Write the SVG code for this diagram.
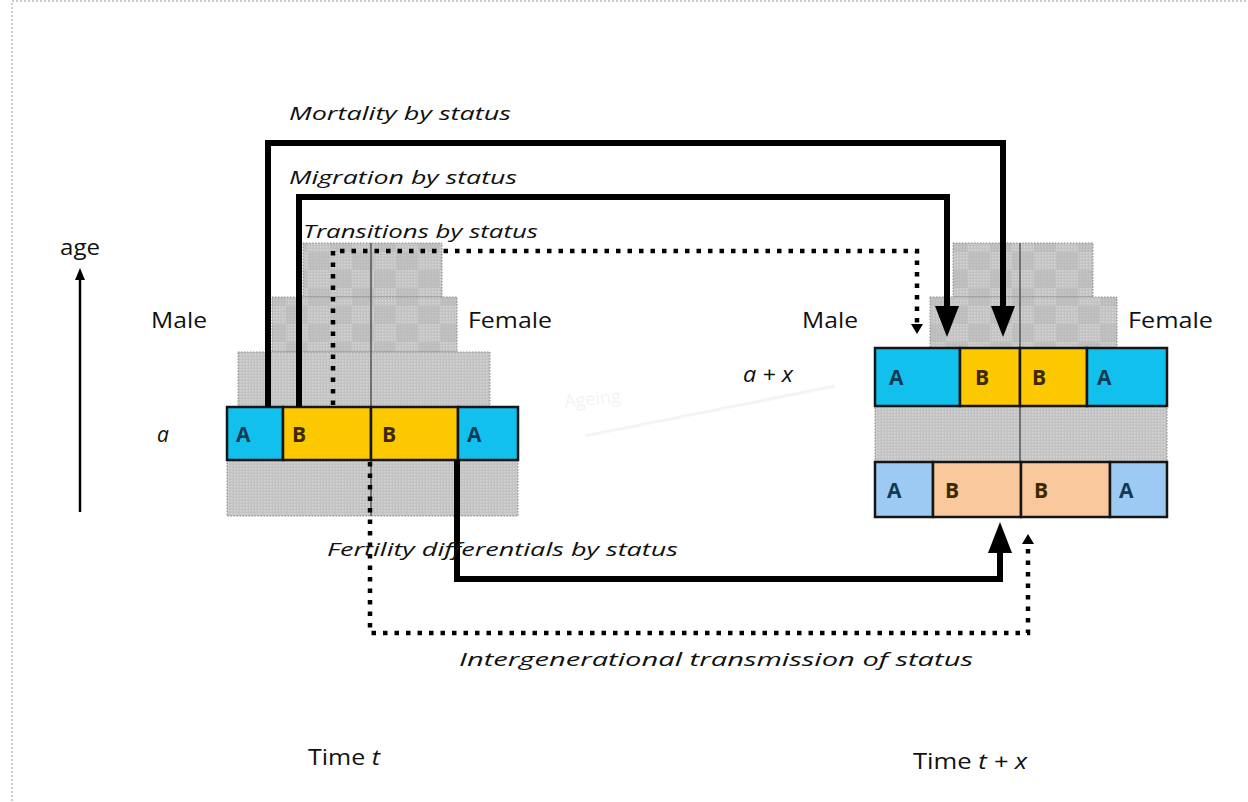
<svg xmlns="http://www.w3.org/2000/svg" width="1248" height="802" viewBox="0 0 1248 802">
<defs>
<pattern id="dots" width="3" height="3" patternUnits="userSpaceOnUse">
<rect width="3" height="3" fill="#c2c2c2"/>
<rect width="1.5" height="1.5" fill="#d6d6d6"/>
</pattern>
<pattern id="chk" width="44" height="36" patternUnits="userSpaceOnUse">
<rect width="44" height="36" fill="url(#dots)"/>
<rect x="0" y="0" width="22" height="18" fill="#b4b4b4" opacity="0.45"/>
<rect x="22" y="18" width="22" height="18" fill="#b4b4b4" opacity="0.45"/>
</pattern>
<marker id="bigHead" viewBox="0 0 31 24" refX="0" refY="12" markerWidth="31" markerHeight="24" markerUnits="userSpaceOnUse" orient="auto">
<path d="M0,0 L31,12 L0,24 z" fill="#000"/>
</marker>
<marker id="smallHead" viewBox="0 0 10 12" refX="0" refY="6" markerWidth="10" markerHeight="12" markerUnits="userSpaceOnUse" orient="auto">
<path d="M0,0 L10,6 L0,12 z" fill="#000"/>
</marker>
<marker id="ageHead" viewBox="0 0 12 10" refX="0" refY="5" markerWidth="12" markerHeight="10" markerUnits="userSpaceOnUse" orient="auto">
<path d="M0,0 L12,5 L0,10 z" fill="#000"/>
</marker>
</defs>
<style>
.lbl{font-family:"Open Sans","Liberation Sans",sans-serif;font-size:19px;font-style:italic;fill:#111}
.txt{font-family:"Open Sans","Liberation Sans",sans-serif;font-size:21px;fill:#111}
.cellA{font-family:"Open Sans","Liberation Sans",sans-serif;font-size:21px;font-weight:bold;fill:#123a52}
.cellB{font-family:"Open Sans","Liberation Sans",sans-serif;font-size:21px;font-weight:bold;fill:#3d2a00}
.gray{fill:url(#dots);stroke:#888;stroke-width:1;stroke-dasharray:1.5 1.5}
.grayc{fill:url(#chk);stroke:#888;stroke-width:1;stroke-dasharray:1.5 1.5}
.cell{stroke:#151515;stroke-width:2.5}
.axis{stroke:#555;stroke-width:1.5}
.thick{fill:none;stroke:#000;stroke-width:6}
.dot{fill:none;stroke:#000;stroke-width:4.5;stroke-dasharray:4.5 7}
</style>
<rect x="0" y="0" width="1248" height="802" fill="#fff"/>
<rect x="12" y="1" width="1240" height="806" fill="none" stroke="#999" stroke-width="1" stroke-dasharray="2 2"/>

<g id="age-axis">
<line x1="80" y1="512" x2="80" y2="280" stroke="#000" stroke-width="2.5" marker-end="url(#ageHead)"/>
<text class="txt" x="60" y="255" textLength="40" lengthAdjust="spacingAndGlyphs">age</text>
</g>

<g id="pyramid-t">
<rect class="grayc" x="303" y="243" width="139" height="54"/>
<rect class="grayc" x="272" y="297" width="185" height="55"/>
<rect class="gray" x="238" y="352" width="252" height="55"/>
<rect class="gray" x="227" y="460" width="291" height="56"/>
<line class="axis" x1="371" y1="243" x2="371" y2="516"/>
<rect class="cell" x="227" y="407" width="56" height="53" fill="#12c0ee"/>
<rect class="cell" x="283" y="407" width="88" height="53" fill="#fcc800"/>
<rect class="cell" x="371" y="407" width="87" height="53" fill="#fcc800"/>
<rect class="cell" x="458" y="407" width="60" height="53" fill="#12c0ee"/>
<text class="cellA" x="236" y="442">A</text>
<text class="cellB" x="292" y="442">B</text>
<text class="cellB" x="382" y="442">B</text>
<text class="cellA" x="467" y="442">A</text>
</g>

<g id="pyramid-tx">
<rect class="grayc" x="953" y="243" width="140" height="54"/>
<rect class="grayc" x="930" y="297" width="187" height="51"/>
<rect class="gray" x="875" y="406" width="292" height="56"/>
<line class="axis" x1="1020" y1="243" x2="1020" y2="517"/>
<rect class="cell" x="875" y="348" width="85" height="58" fill="#12c0ee"/>
<rect class="cell" x="960" y="348" width="60" height="58" fill="#fcc800"/>
<rect class="cell" x="1020" y="348" width="67" height="58" fill="#fcc800"/>
<rect class="cell" x="1087" y="348" width="80" height="58" fill="#12c0ee"/>
<rect class="cell" x="875" y="462" width="58" height="55" fill="#9dcaf2"/>
<rect class="cell" x="933" y="462" width="88" height="55" fill="#f9c89c"/>
<rect class="cell" x="1021" y="462" width="89" height="55" fill="#f9c89c"/>
<rect class="cell" x="1110" y="462" width="57" height="55" fill="#9dcaf2"/>
<text class="cellA" x="889" y="385">A</text>
<text class="cellB" x="975" y="385">B</text>
<text class="cellB" x="1032" y="385">B</text>
<text class="cellA" x="1097" y="385">A</text>
<text class="cellA" x="887" y="498">A</text>
<text class="cellB" x="945" y="498">B</text>
<text class="cellB" x="1034" y="498">B</text>
<text class="cellA" x="1119" y="498">A</text>
</g>

<g id="side-labels">
<text class="txt" x="151" y="328" textLength="56" lengthAdjust="spacingAndGlyphs">Male</text>
<text class="txt" x="468" y="328" textLength="84" lengthAdjust="spacingAndGlyphs">Female</text>
<text class="txt" x="802" y="328" textLength="56" lengthAdjust="spacingAndGlyphs">Male</text>
<text class="txt" x="1128" y="328" textLength="85" lengthAdjust="spacingAndGlyphs">Female</text>
<text class="lbl" x="157" y="442" style="font-size:21px">a</text>
<text class="lbl" x="743" y="382" style="font-size:21px" textLength="50" lengthAdjust="spacingAndGlyphs">a + x</text>
<text class="txt" x="308" y="765" textLength="72" lengthAdjust="spacingAndGlyphs">Time <tspan font-style="italic">t</tspan></text>
<text class="txt" x="913" y="769" textLength="114" lengthAdjust="spacingAndGlyphs">Time <tspan font-style="italic">t + x</tspan></text>
</g>

<g id="ageing-hint">
<text x="565" y="408" transform="rotate(-6 565 408)" style="font-family:'Open Sans','Liberation Sans',sans-serif;font-size:18px;fill:#f3f3f3">Ageing</text>
<line x1="585" y1="436" x2="835" y2="386" stroke="#f4f4f4" stroke-width="3"/>
</g>

<g id="connectors">
<path class="thick" d="M268,407 V143 H1003 V306" marker-end="url(#bigHead)"/>
<path class="thick" d="M299,407 V197 H947 V306" marker-end="url(#bigHead)"/>
<path class="dot" d="M333,405 V251 H917 V324" marker-end="url(#smallHead)"/>
<path class="thick" d="M457,460 V579 H1000 V553" marker-end="url(#bigHead)"/>
<path class="dot" d="M370,462 V633 H1028 V544" marker-end="url(#smallHead)"/>
</g>

<g id="connector-labels">
<text class="lbl" x="289" y="120" textLength="222" lengthAdjust="spacingAndGlyphs">Mortality by status</text>
<text class="lbl" x="289" y="184" textLength="228" lengthAdjust="spacingAndGlyphs">Migration by status</text>
<text class="lbl" x="303" y="238" textLength="235" lengthAdjust="spacingAndGlyphs">Transitions by status</text>
<text class="lbl" x="327" y="556" textLength="351" lengthAdjust="spacingAndGlyphs">Fertility differentials by status</text>
<text class="lbl" x="459" y="666" textLength="514" lengthAdjust="spacingAndGlyphs">Intergenerational transmission of status</text>
</g>
</svg>
